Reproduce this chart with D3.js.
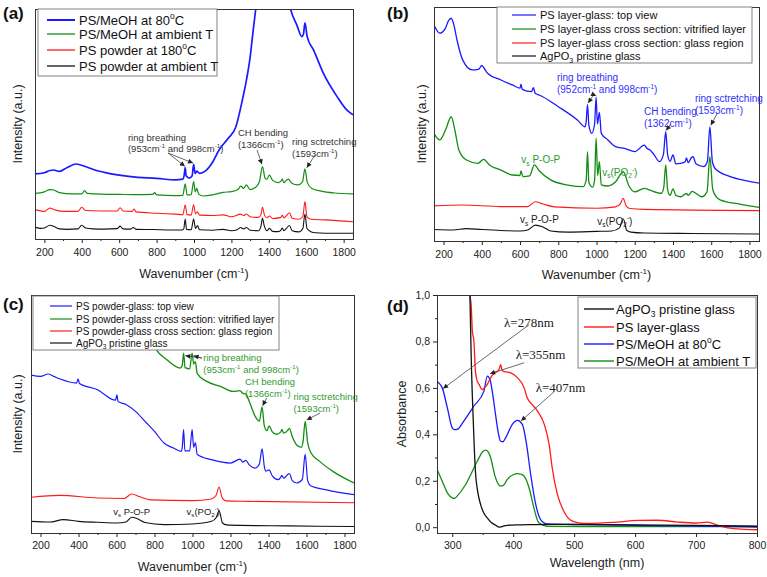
<!DOCTYPE html>
<html>
<head>
<meta charset="utf-8">
<script src="https://cdn.jsdelivr.net/npm/d3@7"></script>
<style>
body{margin:0;background:#fff;}
</style>
</head>
<body>
<svg id="fig" width="767" height="577"></svg>
<script>
// ---- axis ticks
var wnTicks=[200,400,600,800,1000,1200,1400,1600,1800];
var wnMinor=[300,500,700,900,1100,1300,1500,1700];
var wlTicks=[300,400,500,600,700,800];
var wlMinor=[350,450,550,650,750];
var absTicks=[0,0.2,0.4,0.6,0.8,1.0];
var absMinor=[0.1,0.3,0.5,0.7,0.9];

// ---- legends
var legendA=['PS/MeOH at 80^{o}C','PS/MeOH at ambient T','PS powder at 180^{o}C','PS powder at ambient T'];
var legendB=['PS layer-glass: top view','PS layer-glass cross section: vitrified layer','PS layer-glass cross section: glass region','AgPO_{3} pristine glass'];
var legendC=['PS powder-glass: top view','PS powder-glass cross section: vitrified layer','PS powder-glass cross section: glass region','AgPO_{3} pristine glass'];
var legendD=['AgPO_{3} pristine glass','PS layer-glass','PS/MeOH at 80^{o}C','PS/MeOH at ambient T'];

// ---- (a) Raman, [wavenumber, intensity a.u.]
var aMeoh80=[[150,28.3],[200,28.8],[230,29.8],[250,30.0],[280,29.4],[320,31.0],[370,32.6],[420,31.5],[470,30.0],[520,29.0],[600,27.8],[700,26.8],[800,26.4],[900,25.7],[940,26.0],[948,28.0],[953,31.0],[958,27.5],[975,26.5],[990,27.5],[998,32.5],[1006,28.5],[1015,29.5],[1030,28.5],[1060,29.5],[1100,33.5],[1134,38.7],[1180,43.5],[1224,48.8],[1260,61],[1280,69],[1300,79],[1314,89],[1330,100],[1380,125],[1420,135],[1470,125],[1513,101],[1550,93],[1576,88],[1585,89],[1593,94],[1605,88],[1640,82],[1692,72],[1764,62],[1818,56],[1850,54]];
var aMeohRT=[[150,19.8],[200,20.5],[230,21.5],[250,21.3],[280,20.2],[350,19.6],[400,19.6],[415,21.0],[430,19.8],[500,19.5],[600,19.4],[680,19.3],[780,19.4],[790,20.2],[800,19.2],[900,18.9],[940,19.0],[953,24.0],[963,19.2],[985,19.3],[998,25.0],[1007,20.5],[1015,22.0],[1025,19.5],[1050,18.7],[1100,19.2],[1155,20.3],[1200,20.6],[1235,21.5],[1250,23.0],[1265,22.0],[1280,23.5],[1300,21.5],[1330,22.5],[1350,25.0],[1366,31.5],[1380,26.5],[1390,26.0],[1403,27.8],[1420,25.5],[1450,24.5],[1465,25.2],[1472,26.0],[1480,24.5],[1495,25.6],[1505,26.0],[1520,24.5],[1555,23.5],[1580,24.8],[1593,30.5],[1606,24.5],[1630,22.0],[1680,20.8],[1750,20.0],[1850,19.6]];
var aPowder180=[[150,12.8],[200,12.0],[230,13.5],[250,12.8],[300,12.0],[380,12.0],[400,13.8],[420,12.4],[500,12.2],[590,12.2],[605,13.6],[620,12.2],[670,12.0],[680,13.0],[690,11.8],[800,11.2],[900,10.8],[940,10.6],[953,14.8],[963,10.6],[985,10.4],[998,14.9],[1008,11.0],[1018,11.8],[1030,10.4],[1100,10.2],[1155,10.5],[1200,9.7],[1250,10.8],[1265,10.2],[1280,10.9],[1300,9.7],[1345,9.4],[1358,10.6],[1366,13.8],[1376,10.6],[1390,9.2],[1403,10.0],[1420,8.9],[1465,9.4],[1472,10.4],[1480,9.2],[1495,10.2],[1510,11.4],[1525,9.0],[1560,8.6],[1582,9.8],[1593,16.3],[1604,9.6],[1625,8.6],[1700,8.3],[1850,7.5]];
var aPowderRT=[[150,5.2],[180,4.6],[200,4.8],[230,6.0],[250,5.5],[280,4.4],[320,4.2],[380,4.4],[400,6.0],[420,4.8],[460,4.4],[520,4.3],[590,4.5],[605,5.6],[620,4.4],[660,4.3],[675,5.0],[690,4.2],[780,4.1],[880,3.9],[935,3.9],[945,4.3],[953,8.7],[960,4.2],[985,4.0],[998,8.7],[1008,4.6],[1018,5.8],[1030,4.0],[1100,3.8],[1155,4.2],[1200,3.6],[1230,4.0],[1250,5.0],[1265,4.4],[1280,5.0],[1300,3.8],[1345,3.6],[1358,5.6],[1366,9.0],[1376,5.6],[1390,3.6],[1403,4.6],[1420,3.3],[1450,3.2],[1465,3.9],[1472,4.8],[1480,3.6],[1495,4.7],[1510,5.9],[1525,3.6],[1560,3.1],[1582,4.6],[1593,10.9],[1604,4.6],[1625,3.2],[1650,2.7],[1700,2.5],[1850,2.5]];

// ---- (b) Raman, layer-glass
var bTop=[[150,92.3],[180,88.8],[210,91],[225,94],[240,95.2],[255,92],[270,86],[300,77.4],[350,73.1],[385,73.5],[400,75],[415,73.5],[430,71.7],[500,68.8],[560,66.7],[600,65.3],[605,67],[612,64.8],[660,63.8],[670,65.5],[680,63],[700,62.4],[800,57.4],[900,51.7],[940,48.8],[946,51],[953,58.3],[960,49.5],[975,46],[990,50],[998,61.5],[1005,50],[1015,55],[1025,46],[1060,43.2],[1100,40.3],[1150,39.5],[1200,38.2],[1250,41],[1265,39.5],[1280,38.9],[1300,37],[1330,33.9],[1350,37],[1362,46.7],[1372,37],[1385,34],[1400,36.8],[1415,33],[1440,33.2],[1465,34],[1470,35.5],[1480,33.5],[1495,35.5],[1505,36],[1520,33],[1560,31.8],[1580,34],[1593,48.8],[1606,34],[1620,31],[1700,27.5],[1780,25.8],[1850,24.7]];
var bVitrified=[[150,46],[180,43.2],[210,47.4],[240,53.1],[260,47],[280,38.9],[320,34.6],[380,33.2],[410,34.9],[440,32.5],[500,30.3],[560,28.2],[600,28],[605,30],[615,27.5],[650,27.8],[675,32.5],[700,30],[760,26.1],[850,23.9],[930,23.2],[946,26],[953,38.2],[960,25],[980,23],[990,26],[998,43.9],[1006,28],[1015,33.9],[1025,24],[1060,23.5],[1100,25.3],[1140,29.6],[1170,23.5],[1200,21],[1250,22.5],[1280,21.7],[1340,20.4],[1352,23],[1362,32.5],[1372,22],[1385,19.5],[1400,22.3],[1415,19.5],[1440,18.9],[1470,20.3],[1480,19.5],[1500,21.2],[1550,18.9],[1578,21],[1593,36],[1608,22],[1630,18.5],[1650,17.5],[1750,15.8],[1850,14.4]];
var bGlass=[[150,15],[300,15.4],[500,14.7],[640,14.7],[680,16.8],[720,15.8],[780,14.6],[1000,14],[1100,14.6],[1125,16],[1140,18.2],[1155,15],[1175,13.9],[1250,13.5],[1850,13]];
var bPristine=[[150,4.9],[250,4.7],[320,5.3],[400,4.9],[500,4.5],[600,4.3],[640,4.7],[680,6.8],[720,6],[760,4.3],[850,3.8],[1000,4.1],[1080,4.3],[1120,5.6],[1140,9.5],[1158,4.6],[1180,3.8],[1250,3.4],[1500,3.2],[1850,3]];

// ---- (c) Raman, powder-glass
var cTop=[[150,66.3],[200,65.8],[240,66.8],[270,65.8],[300,64.8],[390,63],[398,64.8],[405,62.8],[500,60.2],[595,55.8],[602,58],[608,55.3],[650,54],[700,51.1],[750,46.9],[800,42.7],[850,37.8],[900,35.7],[940,34.3],[946,36],[953,43.4],[960,34.5],[985,34.5],[998,43.4],[1006,36],[1015,38],[1025,33],[1100,30.8],[1200,29.4],[1250,31],[1265,29.8],[1280,30.5],[1300,28.5],[1330,27.3],[1352,29],[1366,35.4],[1378,28],[1385,26],[1403,26.5],[1420,24],[1450,22.4],[1465,23.5],[1470,24.2],[1480,23],[1500,24.5],[1510,25],[1525,22],[1550,21],[1578,22.5],[1593,33.2],[1606,22],[1620,20],[1700,18.2],[1850,16.1]];
var cVitrified=[[650,120],[690,108],[707,103],[742,88.9],[803,77.7],[865,72.8],[935,69.3],[946,70.5],[953,75.6],[961,69.5],[985,69],[998,75.6],[1006,71],[1015,72],[1025,67],[1075,63.7],[1150,61.5],[1214,59.5],[1250,59.8],[1265,58.7],[1280,58.5],[1300,55],[1330,49],[1352,47],[1366,53],[1378,45],[1392,43],[1403,45],[1420,42.5],[1442,41.5],[1465,42.5],[1470,43.5],[1480,42],[1500,43],[1510,44],[1525,40.5],[1547,37.1],[1573,36],[1582,38.5],[1593,46.9],[1606,38],[1625,33.5],[1669,30.1],[1739,25.9],[1850,21]];
var cGlass=[[150,15],[300,15.8],[500,14.7],[640,14.5],[680,16.4],[720,15.3],[780,13.9],[1000,13.6],[1100,14.3],[1125,16],[1140,19.3],[1155,15],[1175,13.5],[1300,13.3],[1850,12.7]];
var cPristine=[[150,4.9],[250,4.6],[320,5.6],[400,4.9],[500,4.5],[600,4.2],[650,4.6],[680,6.6],[710,6.0],[750,4.4],[850,3.5],[1000,3.8],[1100,4.9],[1125,6.5],[1140,9.4],[1158,4.2],[1180,3.4],[1250,3.2],[1500,3.0],[1850,2.7]];

// ---- (d) UV-vis absorbance, [wavelength nm, absorbance]
var dPristine=[[325,1.15],[329,1.0],[331,0.744],[334.5,0.457],[338,0.241],[342,0.15],[346.5,0.098],[352,0.06],[357.5,0.04],[364,0.02],[371,0.009],[377,0.0],[383,0.004],[390,0.008],[407,0.010],[434,0.011],[489,0.012],[600,0.010],[700,0.008],[800,0.004]];
var dLayer=[[328,1.1],[329,1.0],[331,0.96],[333,0.845],[335.6,0.80],[338,0.672],[341,0.63],[344,0.615],[349,0.593],[353,0.60],[357.5,0.615],[363,0.644],[368,0.661],[374,0.672],[377,0.68],[379.4,0.70],[382,0.675],[385,0.67],[396,0.665],[407,0.644],[418,0.60],[423,0.557],[431,0.529],[440,0.50],[451,0.443],[459,0.356],[464,0.256],[472.5,0.141],[483,0.069],[497,0.026],[516,0.016],[571,0.022],[604,0.029],[637,0.030],[670,0.022],[700,0.018],[719,0.022],[735,0.009],[752,-0.003],[779,-0.009],[800,-0.011]];
var d80=[[275,0.629],[280,0.615],[283.6,0.60],[292,0.514],[300,0.428],[304,0.42],[308,0.421],[319,0.457],[335.6,0.522],[352,0.586],[357.5,0.651],[362,0.635],[366,0.58],[371,0.486],[376,0.40],[379,0.371],[383,0.368],[387.6,0.385],[398.6,0.443],[407,0.46],[415,0.443],[422,0.356],[428.7,0.227],[437,0.098],[445,0.033],[456,0.014],[516,0.011],[626,0.007],[735,0.004],[800,0.0]];
var dRT=[[275,0.249],[283.6,0.198],[292,0.148],[300,0.126],[304,0.124],[308,0.134],[322,0.184],[341,0.284],[350,0.325],[355,0.332],[360,0.32],[363,0.299],[371,0.213],[379.4,0.177],[384,0.18],[390,0.205],[400,0.226],[407,0.231],[413,0.228],[418,0.22],[426,0.17],[434,0.083],[442,0.019],[456,0.004],[516,0.003],[800,0.003]];

var BLUE='#1a1aff', GREEN='#138e13', RED='#ff1a1a', BLACK='#111';
var FONT='"Liberation Sans", Arial, sans-serif';
var SERIF='"Liberation Serif", "Times New Roman", serif';

var svg=d3.select('#fig');
var defs=svg.append('defs');
defs.append('marker').attr('id','arrow')
    .attr('viewBox','0 0 10 10').attr('refX',10).attr('refY',5)
    .attr('markerWidth',6).attr('markerHeight',5).attr('markerUnits','userSpaceOnUse')
    .attr('orient','auto')
  .append('path').attr('d','M0,0L10,5L0,10z').attr('fill','#222');

// "^{..}" = superscript, "_{..}" = subscript
function richText(t,str){
    var fs=parseFloat(t.attr('font-size'));
    var parts=str.split(/(\^\{[^}]*\}|_\{[^}]*\})/).filter(function(s){return s.length;});
    var shift=0;
    parts.forEach(function(s){
        var dy=0,txt=s,small=false;
        if(s[0]=='^'){txt=s.slice(2,-1);dy=-fs*0.42;small=true;}
        else if(s[0]=='_'){txt=s.slice(2,-1);dy=fs*0.25;small=true;}
        var sp=t.append('tspan').text(txt);
        if(dy-shift!=0) sp.attr('dy',dy-shift);
        if(small) sp.attr('font-size',fs*0.65);
        shift=dy;
    });
}

function drawPanel(p){
    var g=svg.append('g').attr('transform','translate('+p.left+','+p.top+')');
    var x=d3.scaleLinear().domain(p.xDomain).range([0,p.w]);
    var y=d3.scaleLinear().domain(p.yDomain).range([p.h,0]);

    g.append('clipPath').attr('id','clip-'+p.id)
        .append('rect').attr('width',p.w).attr('height',p.h);
    var line=d3.line()
        .x(function(d){return x(d[0]);})
        .y(function(d){return y(d[1]);})
        .curve(d3.curveMonotoneX);
    var plot=g.append('g').attr('clip-path','url(#clip-'+p.id+')');
    p.series.forEach(function(s){
        plot.append('path').datum(s.data)
            .attr('d',line)
            .attr('fill','none')
            .attr('stroke',s.color)
            .attr('stroke-width',s.width||1.1)
            .attr('stroke-linejoin','round');
    });

    // x axis: major + minor ticks
    var xa=g.append('g').attr('transform','translate(0,'+p.h+')')
        .call(d3.axisBottom(x).tickValues(p.xTicks).tickSize(4).tickSizeOuter(0)
            .tickPadding(p.tickPad).tickFormat(d3.format('d')));
    xa.attr('font-family',FONT).attr('font-size',10.5).attr('color','#222');
    xa.select('.domain').remove();
    var xm=g.append('g').attr('transform','translate(0,'+p.h+')')
        .call(d3.axisBottom(x).tickValues(p.xMinor).tickSize(2).tickFormat(''));
    xm.attr('color','#222');
    xm.select('.domain').remove();

    if(p.yTicks){
        var ya=g.append('g')
            .call(d3.axisLeft(y).tickValues(p.yTicks).tickSize(4).tickPadding(3)
                .tickFormat(function(d){return d3.format('.1f')(d).replace('.',',');}));
        ya.attr('font-family',FONT).attr('font-size',10.5).attr('color','#222');
        ya.select('.domain').remove();
        var ym=g.append('g').call(d3.axisLeft(y).tickValues(p.yMinor).tickSize(2).tickFormat(''));
        ym.attr('color','#222');
        ym.select('.domain').remove();
    }

    g.append('rect').attr('width',p.w).attr('height',p.h)
        .attr('fill','none').attr('stroke','#333').attr('stroke-width',1)
        .attr('shape-rendering','crispEdges');

    // axis titles
    var xt=g.append('text').attr('x',p.w/2).attr('y',p.h+p.xTitleDy)
        .attr('text-anchor','middle').attr('font-family',FONT).attr('font-size',12.5).attr('fill','#222');
    richText(xt,p.xTitle);
    g.append('text').attr('transform','translate('+p.yTitleX+','+(p.h/2)+') rotate(-90)')
        .attr('text-anchor','middle').attr('font-family',FONT).attr('font-size',12.5).attr('fill','#222')
        .text(p.yTitle);

    // annotations
    (p.notes||[]).forEach(function(n){
        n.lines.forEach(function(l,i){
            var t=g.append('text').attr('x',x(n.at[0])).attr('y',y(n.at[1])+i*p.noteLh)
                .attr('font-size',p.noteSize).attr('font-family',p.noteFont||FONT)
                .attr('fill',n.color||p.noteColor);
            richText(t,l);
        });
        (n.arrows||[]).forEach(function(a){
            g.append('line')
                .attr('x1',x(a[0])).attr('y1',y(a[1]))
                .attr('x2',x(a[2])).attr('y2',y(a[3]))
                .attr('stroke','#444').attr('stroke-width',0.8)
                .attr('marker-end','url(#arrow)');
        });
    });

    // legend
    var lg=p.legend;
    var b=g.append('g');
    b.append('rect').attr('x',lg.x).attr('y',lg.y).attr('width',lg.w).attr('height',lg.h)
        .attr('fill','#fff').attr('stroke','#777').attr('stroke-width',0.9);
    lg.labels.forEach(function(l,i){
        var yy=lg.rows[i];
        b.append('line').attr('x1',lg.l1).attr('x2',lg.l2).attr('y1',yy).attr('y2',yy)
            .attr('stroke',lg.colors[i]).attr('stroke-width',lg.lw[i]);
        var t=b.append('text').attr('x',lg.tx).attr('y',yy+lg.size*0.35)
            .attr('font-family',FONT).attr('font-size',lg.size).attr('fill','#111');
        richText(t,l);
    });

    svg.append('text').attr('x',p.tag[0]).attr('y',p.tag[1])
        .attr('font-family',FONT).attr('font-weight','bold').attr('font-size',17).attr('fill','#111')
        .text(p.label);
}

var WN='Wavenumber (cm^{-1})';

drawPanel({
    id:'a',label:'(a)',tag:[3,19],
    left:35,top:9,w:318,h:230,
    xDomain:[150,1850],yDomain:[0,100],
    xTicks:wnTicks,xMinor:wnMinor,tickPad:6,
    xTitle:WN,xTitleDy:39,yTitle:'Intensity (a.u.)',yTitleX:-13.5,
    series:[
        {data:aPowderRT,color:BLACK,width:1.1},
        {data:aPowder180,color:RED,width:1.1},
        {data:aMeohRT,color:GREEN,width:1.2},
        {data:aMeoh80,color:BLUE,width:1.7}
    ],
    noteSize:9.5,noteLh:11.6,noteColor:'#333',
    notes:[
        {lines:['ring breathing','(953cm^{-1} and 998cm^{-1})'],at:[647,42.8],arrows:[[861,37.4,951,31.6],[861,37.4,995,33]]},
        {lines:['CH bending','(1366cm^{-1})'],at:[1235,44.8],arrows:[[1337,38.7,1363,32.5]]},
        {lines:['ring sctretching','(1593cm^{-1})'],at:[1524,40.9],arrows:[[1647,36.5,1603,31]]}
    ],
    legend:{x:3,y:0,w:179,h:67,l1:12,l2:40,tx:44,size:13,rows:[11,25,41,57],
        labels:legendA,colors:[BLUE,GREEN,RED,BLACK],lw:[2,1.3,1.3,1.3]}
});

drawPanel({
    id:'b',label:'(b)',tag:[387,19],
    left:434,top:7,w:325,h:234,
    xDomain:[150,1850],yDomain:[0,100],
    xTicks:wnTicks,xMinor:wnMinor,tickPad:5.5,
    xTitle:WN,xTitleDy:38,yTitle:'Intensity (a.u.)',yTitleX:-8,
    series:[
        {data:bPristine,color:BLACK,width:1.1},
        {data:bGlass,color:RED,width:1.1},
        {data:bVitrified,color:GREEN,width:1.3},
        {data:bTop,color:BLUE,width:1.3}
    ],
    noteSize:10,noteLh:12,noteColor:'#3030ff',
    notes:[
        {lines:['ring breathing','(952cm^{-1} and 998cm^{-1})'],at:[793,68.5],arrows:[[985,62.5,956,59],[985,62.5,998,62]]},
        {lines:['CH bending','(1362cm^{-1})'],at:[1248,53.8],arrows:[[1388,50,1364,47.2]]},
        {lines:['ring sctretching','(1593cm^{-1})'],at:[1515,59.5],arrows:[[1632,54.6,1598,49.5]]},
        {lines:['v_{s} P-O-P'],at:[607,33.3],color:'#2a9a2a'},
        {lines:['v_{s}(PO_{2}^{-})'],at:[1030,27.8],color:'#2a9a2a'},
        {lines:['v_{s} P-O-P'],at:[600,7.5],color:'#222'},
        {lines:['v_{s}(PO_{2}^{-})'],at:[1004,7],color:'#222'}
    ],
    legend:{x:63,y:0,w:255,h:56,l1:78,l2:102,tx:106,size:11,rows:[8,22,36,49],
        labels:legendB,colors:[BLUE,GREEN,RED,BLACK],lw:[1.2,1.2,1.2,1.2]}
});

drawPanel({
    id:'c',label:'(c)',tag:[3,310],
    left:31,top:295,w:323,h:238,
    xDomain:[150,1850],yDomain:[0,100],
    xTicks:wnTicks,xMinor:wnMinor,tickPad:4.5,
    xTitle:WN,xTitleDy:38,yTitle:'Intensity (a.u.)',yTitleX:-9.5,
    series:[
        {data:cPristine,color:BLACK,width:1.1},
        {data:cGlass,color:RED,width:1.1},
        {data:cTop,color:BLUE,width:1.2},
        {data:cVitrified,color:GREEN,width:1.3}
    ],
    noteSize:9.5,noteLh:12,noteColor:'#2f9a2f',
    notes:[
        {lines:['ring breathing','(953cm^{-1} and 998cm^{-1})'],at:[1057,72.3],arrows:[[1050,73.5,962,74.5],[1050,73.5,1006,74.5]]},
        {lines:['CH bending','(1366cm^{-1})'],at:[1276,62.2],arrows:[[1390,56.7,1369,53.5]]},
        {lines:['ring sctretching','(1593cm^{-1})'],at:[1531,55.9],arrows:[[1671,50.4,1601,47.5]]},
        {lines:['v_{s} P-O-P'],at:[583,7.6],color:'#222'},
        {lines:['v_{s}(PO_{2}^{-})'],at:[969,7.6],color:'#222'}
    ],
    legend:{x:2,y:1,w:246,h:54,l1:19,l2:41,tx:45,size:10,rows:[11,24,36,48],
        labels:legendC,colors:[BLUE,GREEN,RED,BLACK],lw:[1.2,1.2,1.2,1.2]}
});

drawPanel({
    id:'d',label:'(d)',tag:[387,312],
    left:437,top:295,w:320,h:238,
    xDomain:[275,800],yDomain:[-0.025,1.0],
    xTicks:wlTicks,xMinor:wlMinor,tickPad:4.5,
    yTicks:absTicks,yMinor:absMinor,
    xTitle:'Wavelength (nm)',xTitleDy:34,yTitle:'Absorbance',yTitleX:-31,
    series:[
        {data:dRT,color:GREEN,width:1.3},
        {data:d80,color:BLUE,width:1.3},
        {data:dLayer,color:RED,width:1.3},
        {data:dPristine,color:BLACK,width:1.3}
    ],
    noteSize:13,noteLh:14,noteColor:'#222',noteFont:SERIF,
    notes:[
        {lines:['λ=278nm'],at:[385,0.861],arrows:[[426,0.872,285,0.597]]},
        {lines:['λ=355nm'],at:[404,0.725],arrows:[[418,0.708,362,0.661]]},
        {lines:['λ=407nm'],at:[437,0.581],arrows:[[467,0.583,413,0.458]]}
    ],
    legend:{x:141,y:2,w:178,h:71,l1:147,l2:177,tx:179,size:13,rows:[14,32,49,66],
        labels:legendD,colors:[BLACK,RED,BLUE,GREEN],lw:[1.4,1.4,1.4,1.4]}
});
</script>
</body>
</html>
